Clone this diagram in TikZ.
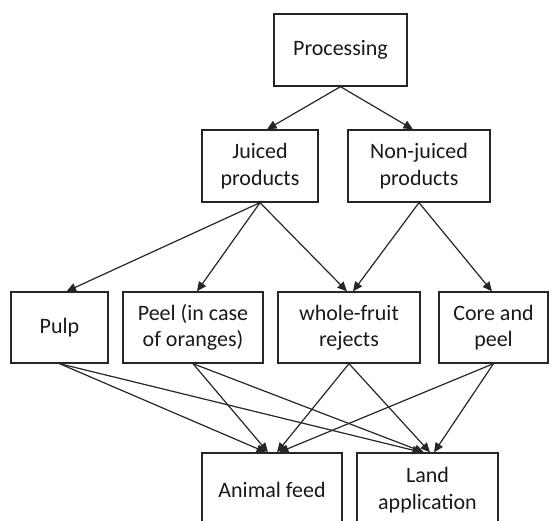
\documentclass[tikz,border=0pt]{standalone}
\usepackage{fontspec}
\setmainfont{Carlito}
\usetikzlibrary{arrows.meta,calc}
\tikzset{
  box/.style={draw=black!85, line width=1.3pt, rectangle, align=center, inner sep=0pt,
    font=\fontsize{22}{26.5}\selectfont, text=black!90},
  conn/.style={draw=black!85, line width=1.2pt, -{Triangle[length=9.5pt,width=8.5pt]}}
}
\begin{document}
\begin{tikzpicture}[x=1pt,y=-1pt]
\useasboundingbox (0,0) rectangle (552,520);
\clip (0,0) rectangle (552,520);
\node[box, minimum width=133pt, minimum height=72pt] (proc) at (340.5,50) {Processing};
\node[box, minimum width=116pt, minimum height=72pt] (jp) at (260,166) {Juiced\\products};
\node[box, minimum width=142pt, minimum height=72pt] (nj) at (419,166) {Non-juiced\\products};
\node[box, minimum width=97pt, minimum height=71pt] (pulp) at (59.5,327.5) {Pulp};
\node[box, minimum width=140pt, minimum height=71pt] (peel) at (193,327.5) {Peel (in case\\of oranges)};
\node[box, minimum width=142pt, minimum height=71pt] (whole) at (349,327.5) {whole-fruit\\rejects};
\node[box, minimum width=109pt, minimum height=71pt] (core) at (493.5,327.5) {Core and\\peel};
\node[box, minimum width=140pt, minimum height=74pt] (feed) at (272,490) {Animal feed};
\node[box, minimum width=141pt, minimum height=74pt] (land) at (427.5,490) {Land\\application};

\draw[conn] (proc.south) -- ($(jp.north)+(7,0)$);
\draw[conn] (proc.south) -- ($(nj.north)+(-6,0)$);
\draw[conn] (jp.south) -- ($(pulp.north)+(7,0)$);
\draw[conn] (jp.south) -- ($(peel.north)+(4,0)$);
\draw[conn] (jp.south) -- ($(whole.north)+(-2,0)$);
\draw[conn] (nj.south) -- ($(whole.north)+(4,0)$);
\draw[conn] (nj.south) -- ($(core.north)+(-1.5,0)$);
\draw[conn] (pulp.south) -- ($(feed.north)+(-6,0)$);
\draw[conn] (peel.south) -- ($(feed.north)+(-4,0)$);
\draw[conn] (whole.south) -- ($(feed.north)+(5,0)$);
\draw[conn] (core.south) -- ($(feed.north)+(7,0)$);
\draw[conn] (pulp.south) -- ($(land.north)+(-5.5,0)$);
\draw[conn] (peel.south) -- ($(land.north)+(-3.5,0)$);
\draw[conn] (whole.south) -- ($(land.north)+(2.5,0)$);
\draw[conn] (core.south) -- ($(land.north)+(6.5,0)$);
\end{tikzpicture}
\end{document}
